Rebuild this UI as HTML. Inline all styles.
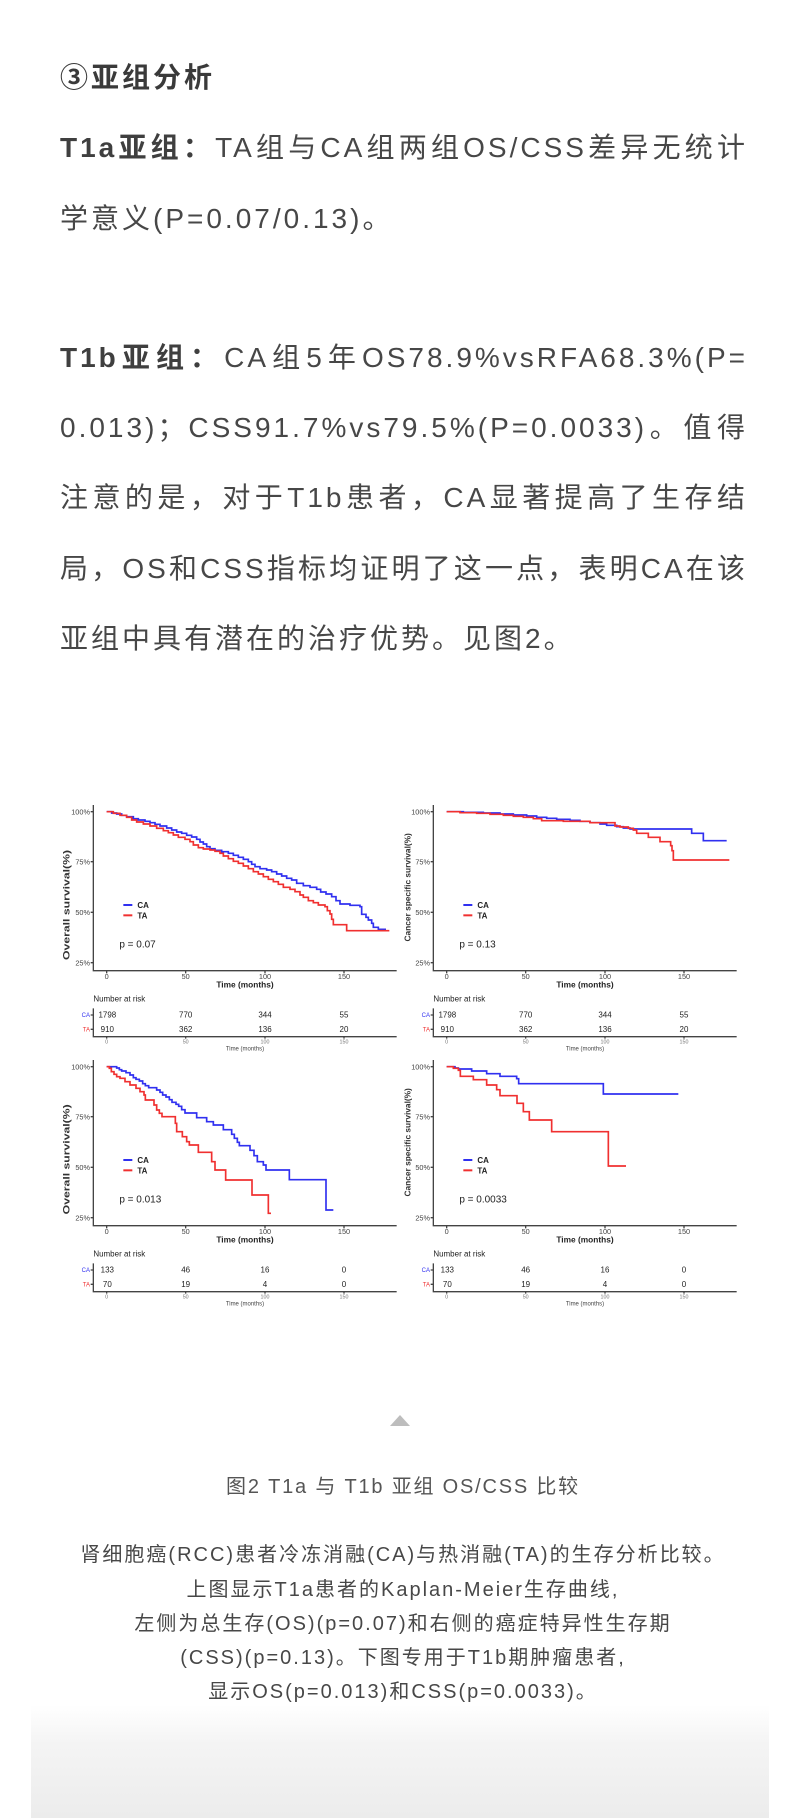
<!DOCTYPE html>
<html>
<head>
<meta charset="utf-8">
<style>
  html,body{margin:0;padding:0;background:#fff;}
  body{width:800px;height:1818px;position:relative;overflow:hidden;}
  .l{position:absolute;left:60px;width:688px;height:40px;line-height:40px;font-size:28px;letter-spacing:3px;white-space:nowrap;color:#474747;font-family:"Liberation Sans","Noto Sans CJK SC",sans-serif;}
  .j{text-align:justify;text-align-last:justify;}
  .h{font-weight:bold;color:#3a3a3a;}
  b{font-weight:bold;color:#3f3f3f;}
  .c{position:absolute;left:0;width:806px;text-align:center;white-space:nowrap;font-family:"Liberation Sans","Noto Sans CJK SC",sans-serif;color:#474747;}
  .cap{font-size:20px;letter-spacing:1.8px;height:30px;line-height:30px;color:#555;}
  .d{font-size:20px;letter-spacing:2px;height:30px;line-height:30px;}
  .tri{position:absolute;left:390px;top:1415px;width:0;height:0;border-left:10px solid transparent;border-right:10px solid transparent;border-bottom:11px solid #bdbdbd;}
  .box{position:absolute;left:31px;width:738px;top:1705px;height:113px;background:linear-gradient(to bottom,#ffffff 0%,#f4f4f4 35%,#ececec 100%);}
  svg{position:absolute;left:50px;top:780px;}
  svg text{font-family:"Liberation Sans",Arial,sans-serif;}
</style>
</head>
<body>

<div class="l h" style="top:58px;">③亚组分析</div>
<div class="l j" style="top:128px;"><b>T1a亚组：</b>TA组与CA组两组OS/CSS差异无统计</div>
<div class="l" style="top:199px;">学意义(P=0.07/0.13)。</div>

<div class="l j" style="top:338px;"><b>T1b亚组：</b>CA组5年OS78.9%vsRFA68.3%(P=</div>
<div class="l j" style="top:408px;">0.013)；CSS91.7%vs79.5%(P=0.0033)。值得</div>
<div class="l j" style="top:478px;">注意的是，对于T1b患者，CA显著提高了生存结</div>
<div class="l j" style="top:549px;">局，OS和CSS指标均证明了这一点，表明CA在该</div>
<div class="l" style="top:619px;">亚组中具有潜在的治疗优势。见图2。</div>

<svg width="700" height="540" viewBox="0 0 700 540" xmlns="http://www.w3.org/2000/svg">
  <!-- Panel 1: OS T1a -->
  <g transform="translate(0,0) scale(0.333333)">
    <g stroke="#444" stroke-width="4" fill="none">
      <path d="M130 75 V572 H1040"/>
      <path d="M122 95 H130 M122 245 H130 M122 397 H130 M122 548 H130"/>
      <path d="M170 572 V580 M407 572 V580 M645 572 V580 M882 572 V580"/>
      <path d="M130 685 V770 H1040"/>
      <path d="M122 705 H130 M122 748 H130"/>
      <path d="M170 770 V776 M407 770 V776 M645 770 V776 M882 770 V776"/>
    </g>
    <g font-size="22" fill="#444" text-anchor="end">
      <text x="120" y="103">100%</text><text x="120" y="253">75%</text><text x="120" y="405">50%</text><text x="120" y="556">25%</text>
    </g>
    <g font-size="22" fill="#444" text-anchor="middle">
      <text x="170" y="597">0</text><text x="407" y="597">50</text><text x="645" y="597">100</text><text x="882" y="597">150</text>
    </g>
    <text x="585" y="622" font-size="25" font-weight="bold" fill="#222" text-anchor="middle">Time (months)</text>
    <text transform="translate(58,375) rotate(-90)" font-size="28" font-weight="bold" fill="#333" text-anchor="middle" textLength="330" lengthAdjust="spacingAndGlyphs">Overall survival(%)</text>
    <path d="M170 95 H185 V99 H200 V102 H215 V106 H230 V110 H250 V116 H265 V120 H285 V124 H300 V128 H315 V133 H330 V138 H350 V144 H365 V150 H380 V156 H395 V160 H410 V166 H425 V171 H440 V178 H450 V186 H460 V192 H470 V200 H480 V206 H495 V211 H515 V215 H535 V220 H550 V226 H565 V232 H580 V238 H595 V245 H605 V253 H615 V260 H630 V266 H650 V270 H665 V275 H680 V282 H695 V288 H710 V295 H725 V300 H740 V310 H760 V317 H780 V322 H800 V328 H812 V336 H828 V342 H845 V350 H858 V362 H870 V372 H900 V376 H930 V380 H935 V403 H948 V412 H955 V420 H965 V430 H970 V442 H985 V448 H1008" stroke="#3030f0" stroke-width="5" fill="none"/>
    <path d="M170 95 H190 V100 H210 V106 H230 V112 H245 V120 H260 V126 H280 V132 H300 V138 H320 V145 H340 V152 H355 V158 H370 V165 H385 V172 H405 V178 H420 V185 H430 V195 H445 V203 H460 V207 H480 V210 H495 V214 H510 V220 H520 V228 H535 V236 H550 V244 H565 V250 H580 V258 H595 V266 H610 V275 H625 V282 H640 V290 H655 V298 H670 V305 H685 V313 H700 V322 H720 V328 H735 V335 H750 V345 H760 V352 H775 V362 H790 V368 H805 V375 H825 V380 H832 V392 H840 V402 H845 V418 H850 V434 H890 V452 H1018" stroke="#f03030" stroke-width="5" fill="none"/>
    <path d="M220 375 H247" stroke="#3030f0" stroke-width="6"/>
    <path d="M220 406 H247" stroke="#f03030" stroke-width="6"/>
    <text x="262" y="384" font-size="24" font-weight="bold" fill="#222">CA</text>
    <text x="262" y="415" font-size="24" font-weight="bold" fill="#222">TA</text>
    <text x="208" y="502" font-size="30" fill="#222">p = 0.07</text>
    <text x="130" y="665" font-size="24" fill="#222">Number at risk</text>
    <text x="120" y="711" font-size="18" fill="#3030f0" text-anchor="end">CA</text>
    <text x="120" y="754" font-size="18" fill="#f03030" text-anchor="end">TA</text>
    <g font-size="24" fill="#222" text-anchor="middle">
      <text x="172" y="713">1798</text><text x="407" y="713">770</text><text x="645" y="713">344</text><text x="882" y="713">55</text>
      <text x="172" y="756">910</text><text x="407" y="756">362</text><text x="645" y="756">136</text><text x="882" y="756">20</text>
    </g>
    <g font-size="16" fill="#777" text-anchor="middle">
      <text x="170" y="791">0</text><text x="407" y="791">50</text><text x="645" y="791">100</text><text x="882" y="791">150</text>
    </g>
    <text x="585" y="811" font-size="18" fill="#444" text-anchor="middle">Time (months)</text>
  </g>

  <!-- Panel 2: CSS T1a -->
  <g transform="translate(340,0) scale(0.333333)">
    <g stroke="#444" stroke-width="4" fill="none">
      <path d="M130 75 V572 H1040"/>
      <path d="M122 95 H130 M122 245 H130 M122 397 H130 M122 548 H130"/>
      <path d="M170 572 V580 M407 572 V580 M645 572 V580 M882 572 V580"/>
      <path d="M130 685 V770 H1040"/>
      <path d="M122 705 H130 M122 748 H130"/>
      <path d="M170 770 V776 M407 770 V776 M645 770 V776 M882 770 V776"/>
    </g>
    <g font-size="22" fill="#444" text-anchor="end">
      <text x="120" y="103">100%</text><text x="120" y="253">75%</text><text x="120" y="405">50%</text><text x="120" y="556">25%</text>
    </g>
    <g font-size="22" fill="#444" text-anchor="middle">
      <text x="170" y="597">0</text><text x="407" y="597">50</text><text x="645" y="597">100</text><text x="882" y="597">150</text>
    </g>
    <text x="585" y="622" font-size="25" font-weight="bold" fill="#222" text-anchor="middle">Time (months)</text>
    <text transform="translate(61,322) rotate(-90)" font-size="26" font-weight="bold" fill="#333" text-anchor="middle" textLength="325" lengthAdjust="spacingAndGlyphs">Cancer specific survival(%)</text>
    <path d="M170 95 H220 V97 H280 V99 H330 V102 H370 V105 H410 V108 H440 V112 H470 V115 H500 V118 H540 V121 H570 V124 H600 V128 H630 V132 H650 V136 H680 V140 H700 V144 H720 V147 H905 V160 H940 V182 H1010" stroke="#3030f0" stroke-width="5" fill="none"/>
    <path d="M170 95 H210 V98 H260 V100 H300 V103 H340 V106 H370 V109 H400 V112 H430 V116 H455 V122 H520 V124 H600 V128 H675 V138 H690 V141 H715 V145 H730 V150 H740 V160 H775 V172 H810 V185 H842 V197 H846 V212 H850 V240 H1018" stroke="#f03030" stroke-width="5" fill="none"/>
    <path d="M220 375 H247" stroke="#3030f0" stroke-width="6"/>
    <path d="M220 406 H247" stroke="#f03030" stroke-width="6"/>
    <text x="262" y="384" font-size="24" font-weight="bold" fill="#222">CA</text>
    <text x="262" y="415" font-size="24" font-weight="bold" fill="#222">TA</text>
    <text x="208" y="502" font-size="30" fill="#222">p = 0.13</text>
    <text x="130" y="665" font-size="24" fill="#222">Number at risk</text>
    <text x="120" y="711" font-size="18" fill="#3030f0" text-anchor="end">CA</text>
    <text x="120" y="754" font-size="18" fill="#f03030" text-anchor="end">TA</text>
    <g font-size="24" fill="#222" text-anchor="middle">
      <text x="172" y="713">1798</text><text x="407" y="713">770</text><text x="645" y="713">344</text><text x="882" y="713">55</text>
      <text x="172" y="756">910</text><text x="407" y="756">362</text><text x="645" y="756">136</text><text x="882" y="756">20</text>
    </g>
    <g font-size="16" fill="#777" text-anchor="middle">
      <text x="170" y="791">0</text><text x="407" y="791">50</text><text x="645" y="791">100</text><text x="882" y="791">150</text>
    </g>
    <text x="585" y="811" font-size="18" fill="#444" text-anchor="middle">Time (months)</text>
  </g>

  <!-- Panel 3: OS T1b -->
  <g transform="translate(0,255) scale(0.333333)">
    <g stroke="#444" stroke-width="4" fill="none">
      <path d="M130 75 V572 H1040"/>
      <path d="M122 95 H130 M122 245 H130 M122 397 H130 M122 548 H130"/>
      <path d="M170 572 V580 M407 572 V580 M645 572 V580 M882 572 V580"/>
      <path d="M130 685 V770 H1040"/>
      <path d="M122 705 H130 M122 748 H130"/>
      <path d="M170 770 V776 M407 770 V776 M645 770 V776 M882 770 V776"/>
    </g>
    <g font-size="22" fill="#444" text-anchor="end">
      <text x="120" y="103">100%</text><text x="120" y="253">75%</text><text x="120" y="405">50%</text><text x="120" y="556">25%</text>
    </g>
    <g font-size="22" fill="#444" text-anchor="middle">
      <text x="170" y="597">0</text><text x="407" y="597">50</text><text x="645" y="597">100</text><text x="882" y="597">150</text>
    </g>
    <text x="585" y="622" font-size="25" font-weight="bold" fill="#222" text-anchor="middle">Time (months)</text>
    <text transform="translate(58,373) rotate(-90)" font-size="28" font-weight="bold" fill="#333" text-anchor="middle" textLength="330" lengthAdjust="spacingAndGlyphs">Overall survival(%)</text>
    <path d="M170 95 H200 V99 H208 V104 H215 V108 H228 V113 H240 V120 H250 V128 H258 V133 H268 V138 H278 V146 H286 V152 H296 V158 H320 V165 H330 V172 H338 V180 H348 V186 H358 V194 H366 V202 H378 V208 H386 V214 H395 V224 H405 V234 H440 V248 H470 V260 H490 V270 H520 V284 H545 V298 H553 V310 H562 V322 H568 V332 H600 V346 H612 V362 H622 V380 H640 V390 H648 V405 H718 V434 H828 V525 H850" stroke="#3030f0" stroke-width="5" fill="none"/>
    <path d="M170 95 H178 V100 H184 V110 H192 V118 H200 V125 H210 V130 H225 V140 H240 V150 H258 V160 H270 V170 H282 V180 H286 V195 H312 V210 H320 V225 H328 V235 H336 V245 H376 V265 H380 V290 H397 V305 H410 V320 H418 V330 H445 V352 H485 V380 H495 V405 H527 V435 H606 V480 H655 V535 H663" stroke="#f03030" stroke-width="5" fill="none"/>
    <path d="M220 375 H247" stroke="#3030f0" stroke-width="6"/>
    <path d="M220 406 H247" stroke="#f03030" stroke-width="6"/>
    <text x="262" y="384" font-size="24" font-weight="bold" fill="#222">CA</text>
    <text x="262" y="415" font-size="24" font-weight="bold" fill="#222">TA</text>
    <text x="208" y="502" font-size="30" fill="#222">p = 0.013</text>
    <text x="130" y="665" font-size="24" fill="#222">Number at risk</text>
    <text x="120" y="711" font-size="18" fill="#3030f0" text-anchor="end">CA</text>
    <text x="120" y="754" font-size="18" fill="#f03030" text-anchor="end">TA</text>
    <g font-size="24" fill="#222" text-anchor="middle">
      <text x="172" y="713">133</text><text x="407" y="713">46</text><text x="645" y="713">16</text><text x="882" y="713">0</text>
      <text x="172" y="756">70</text><text x="407" y="756">19</text><text x="645" y="756">4</text><text x="882" y="756">0</text>
    </g>
    <g font-size="16" fill="#777" text-anchor="middle">
      <text x="170" y="791">0</text><text x="407" y="791">50</text><text x="645" y="791">100</text><text x="882" y="791">150</text>
    </g>
    <text x="585" y="811" font-size="18" fill="#444" text-anchor="middle">Time (months)</text>
  </g>

  <!-- Panel 4: CSS T1b -->
  <g transform="translate(340,255) scale(0.333333)">
    <g stroke="#444" stroke-width="4" fill="none">
      <path d="M130 75 V572 H1040"/>
      <path d="M122 95 H130 M122 245 H130 M122 397 H130 M122 548 H130"/>
      <path d="M170 572 V580 M407 572 V580 M645 572 V580 M882 572 V580"/>
      <path d="M130 685 V770 H1040"/>
      <path d="M122 705 H130 M122 748 H130"/>
      <path d="M170 770 V776 M407 770 V776 M645 770 V776 M882 770 V776"/>
    </g>
    <g font-size="22" fill="#444" text-anchor="end">
      <text x="120" y="103">100%</text><text x="120" y="253">75%</text><text x="120" y="405">50%</text><text x="120" y="556">25%</text>
    </g>
    <g font-size="22" fill="#444" text-anchor="middle">
      <text x="170" y="597">0</text><text x="407" y="597">50</text><text x="645" y="597">100</text><text x="882" y="597">150</text>
    </g>
    <text x="585" y="622" font-size="25" font-weight="bold" fill="#222" text-anchor="middle">Time (months)</text>
    <text transform="translate(61,322) rotate(-90)" font-size="26" font-weight="bold" fill="#333" text-anchor="middle" textLength="325" lengthAdjust="spacingAndGlyphs">Cancer specific survival(%)</text>
    <path d="M170 95 H195 V99 H205 V102 H245 V108 H290 V116 H330 V124 H380 V131 H386 V146 H640 V177 H865" stroke="#3030f0" stroke-width="5" fill="none"/>
    <path d="M170 95 H190 V100 H205 V106 H211 V124 H250 V134 H290 V150 H320 V164 H330 V182 H381 V205 H400 V230 H418 V255 H485 V290 H655 V393 H708" stroke="#f03030" stroke-width="5" fill="none"/>
    <path d="M220 375 H247" stroke="#3030f0" stroke-width="6"/>
    <path d="M220 406 H247" stroke="#f03030" stroke-width="6"/>
    <text x="262" y="384" font-size="24" font-weight="bold" fill="#222">CA</text>
    <text x="262" y="415" font-size="24" font-weight="bold" fill="#222">TA</text>
    <text x="208" y="502" font-size="30" fill="#222">p = 0.0033</text>
    <text x="130" y="665" font-size="24" fill="#222">Number at risk</text>
    <text x="120" y="711" font-size="18" fill="#3030f0" text-anchor="end">CA</text>
    <text x="120" y="754" font-size="18" fill="#f03030" text-anchor="end">TA</text>
    <g font-size="24" fill="#222" text-anchor="middle">
      <text x="172" y="713">133</text><text x="407" y="713">46</text><text x="645" y="713">16</text><text x="882" y="713">0</text>
      <text x="172" y="756">70</text><text x="407" y="756">19</text><text x="645" y="756">4</text><text x="882" y="756">0</text>
    </g>
    <g font-size="16" fill="#777" text-anchor="middle">
      <text x="170" y="791">0</text><text x="407" y="791">50</text><text x="645" y="791">100</text><text x="882" y="791">150</text>
    </g>
    <text x="585" y="811" font-size="18" fill="#444" text-anchor="middle">Time (months)</text>
  </g>
</svg>

<div class="tri"></div>
<div class="box"></div>

<div class="c cap" style="top:1472px;">图2 T1a 与 T1b 亚组 OS/CSS 比较</div>

<div class="c d" style="top:1540px;">肾细胞癌(RCC)患者冷冻消融(CA)与热消融(TA)的生存分析比较。</div>
<div class="c d" style="top:1575px;">上图显示T1a患者的Kaplan-Meier生存曲线,</div>
<div class="c d" style="top:1609px;">左侧为总生存(OS)(p=0.07)和右侧的癌症特异性生存期</div>
<div class="c d" style="top:1643px;">(CSS)(p=0.13)。下图专用于T1b期肿瘤患者,</div>
<div class="c d" style="top:1677px;">显示OS(p=0.013)和CSS(p=0.0033)。</div>

</body>
</html>
